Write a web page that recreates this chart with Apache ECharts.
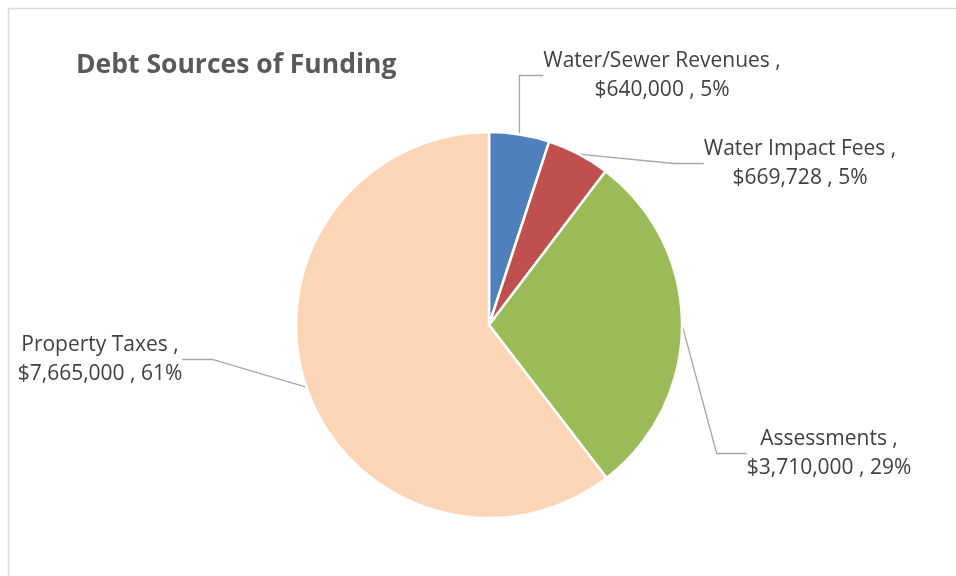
<!DOCTYPE html>
<html>
<head>
<meta charset="utf-8">
<title>Debt Sources of Funding</title>
<script src="https://cdn.jsdelivr.net/npm/echarts@6/dist/echarts.min.js"></script>
<style>
  html, body { margin: 0; padding: 0; background: #ffffff; }
  #chart { width: 956px; height: 576px; }
</style>
</head>
<body>
<div id="chart"></div>
<script>
// Funding sources and their dollar amounts
const categories = ['Water/Sewer Revenues', 'Water Impact Fees', 'Assessments', 'Property Taxes'];
const amounts = [640000, 669728, 3710000, 7665000];
const percentLabels = ['5%', '5%', '29%', '61%'];
const sliceColors = ['#4F81BD', '#C0504D', '#9BBB59', '#FBD5B5'];

// Where each data label block is centred
const labelSpots = [
  { x: 662, y: 75.5 },
  { x: 800, y: 163.5 },
  { x: 829, y: 453.5 },
  { x: 100, y: 359.5 }
];

const chart = echarts.init(document.getElementById('chart'), null, { renderer: 'canvas' });

const fmtMoney = v => '$' + v.toLocaleString('en-US');

chart.setOption({
  animation: false,
  backgroundColor: '#ffffff',
  title: {
    text: 'Debt Sources of Funding',
    left: 71,
    top: 47,
    textStyle: {
      fontFamily: 'Open Sans',
      fontWeight: 'bold',
      fontSize: 26.5,
      color: '#595959'
    }
  },
  graphic: [{
    type: 'rect',
    shape: { x: 8.5, y: 8.5, width: 980, height: 600 },
    style: { fill: 'none', stroke: '#d9d9d9', lineWidth: 1.5 },
    silent: true
  }],
  series: [{
    type: 'pie',
    center: [489, 325],
    radius: 193,
    startAngle: 90,
    clockwise: true,
    avoidLabelOverlap: false,
    itemStyle: { borderColor: '#ffffff', borderWidth: 2.5 },
    label: {
      show: true,
      position: 'outside',
      fontFamily: 'Open Sans',
      fontSize: 21,
      lineHeight: 29,
      color: '#404040',
      align: 'center',
      formatter: p => p.name + ' ,\n' + fmtMoney(p.value) + ' , ' + percentLabels[p.dataIndex]
    },
    labelLine: {
      show: true,
      lineStyle: { color: '#a6a6a6', width: 1.3 }
    },
    labelLayout: p => {
      const s = labelSpots[p.dataIndex];
      return { x: s.x, y: s.y, align: 'center', verticalAlign: 'middle' };
    },
    emphasis: { disabled: true },
    data: categories.map((name, i) => ({
      name,
      value: amounts[i],
      itemStyle: { color: sliceColors[i] }
    }))
  }]
});
</script>
</body>
</html>
